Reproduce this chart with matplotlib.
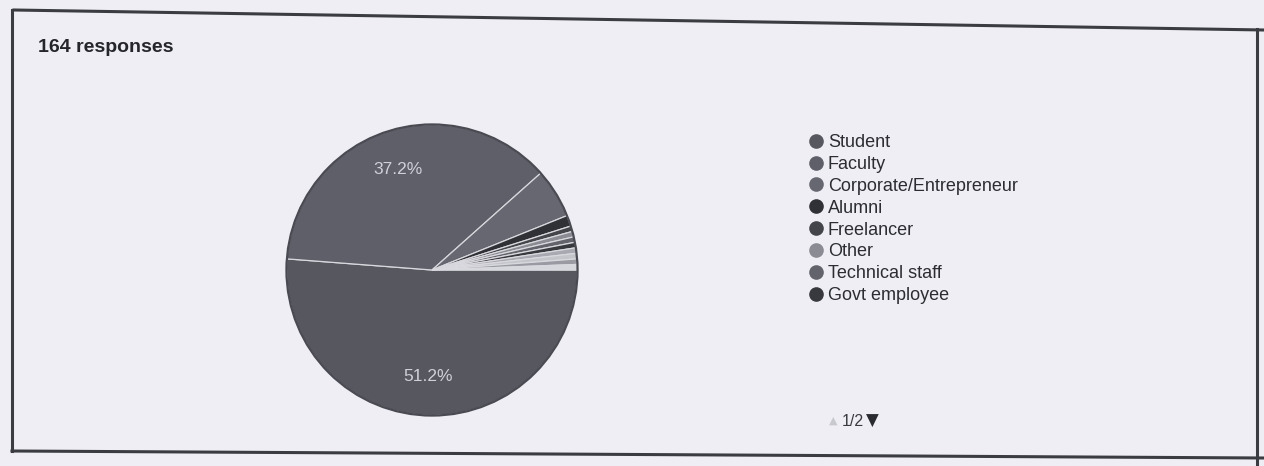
import matplotlib
matplotlib.use("Agg")
import matplotlib.pyplot as plt
from matplotlib.lines import Line2D
from matplotlib.patches import Circle

# --- DATA (164 responses) ---
categories = ["Student", "Faculty", "Corporate/Entrepreneur", "Alumni",
              "Freelancer", "Other", "Technical staff", "Govt employee",
              "page2_a", "page2_b", "page2_c", "page2_d"]
counts = [84, 61, 9, 2, 1, 1, 1, 1, 1, 1, 1, 1]
slice_colors = ["#56575f", "#5e5f68", "#666770", "#303137",
                "#44454b", "#8a8b93", "#62636b", "#38393e",
                "#a9aab1", "#c4c5cb", "#9a9ba2", "#d6d7dc"]
legend_count = 8          # legend shows page 1 of 2
total_text = "164 responses"

BG = "#eeeef4"

fig = plt.figure(figsize=(12.64, 4.66), dpi=100, facecolor=BG)
W, H = 1264, 466

# --- PIE ---
cx, cy, r = 432, 270, 147
ax = fig.add_axes([(cx - r) / W, (H - cy - r) / H, 2 * r / W, 2 * r / H])
ax.set_facecolor("none")


def pct_label(p):
    return f"{p:.1f}%" if p > 30 else ""


wedges, texts, autotexts = ax.pie(
    counts, colors=slice_colors, startangle=0, counterclock=False,
    autopct=pct_label, pctdistance=0.73,
    wedgeprops=dict(edgecolor="#d8d8de", linewidth=0.9),
    textprops=dict(color="#cfd0d8", fontsize=12.5, family="Liberation Sans"))
# darker rim like the scan
ax.add_patch(Circle((0, 0), 1.0, fill=False, edgecolor="#4a4b52", lw=1.6))
ax.set_xlim(-1.01, 1.01)
ax.set_ylim(-1.01, 1.01)
ax.set_aspect("equal")
ax.axis("off")

# --- LEGEND ---
handles = [Line2D([], [], marker="o", linestyle="none", markersize=9.5,
                  markerfacecolor=c, markeredgecolor=c)
           for c in slice_colors[:legend_count]]
fig.legend(handles, categories[:legend_count], loc="upper left",
           bbox_to_anchor=(800 / W, 1 - 125 / H), frameon=False,
           borderpad=0, handlelength=0.8, handletextpad=0.25,
           labelspacing=0.27, prop=dict(family="Liberation Sans", size=13),
           labelcolor="#2c2d33")

# paging
fig.text(829 / W, 1 - 421 / H, "\u25b2", fontsize=8, color="#c8c9cf",
         va="center", ha="left")
fig.text(842 / W, 1 - 421 / H, "1/2", fontsize=11.5, color="#3a3b40",
         va="center", ha="left", family="Liberation Sans")
fig.text(866 / W, 1 - 421 / H, "\u25bc", fontsize=12, color="#2a2b30",
         va="center", ha="left")

# title
fig.text(38 / W, 1 - 47 / H, total_text, fontsize=14, fontweight="bold",
         color="#25262b", va="center", ha="left", family="Liberation Sans")

# --- BORDER of the scanned card ---
border = [((12, 10), (12, 451)), ((12, 451), (1264, 458)),
          ((14, 10), (1264, 30)), ((1257, 29), (1257, 466))]
for (x0, y0), (x1, y1) in border:
    fig.add_artist(Line2D([x0 / W, x1 / W], [1 - y0 / H, 1 - y1 / H],
                          transform=fig.transFigure, color="#3b3c42", lw=2.2))

fig.savefig("out.png", dpi=100, facecolor=BG)
